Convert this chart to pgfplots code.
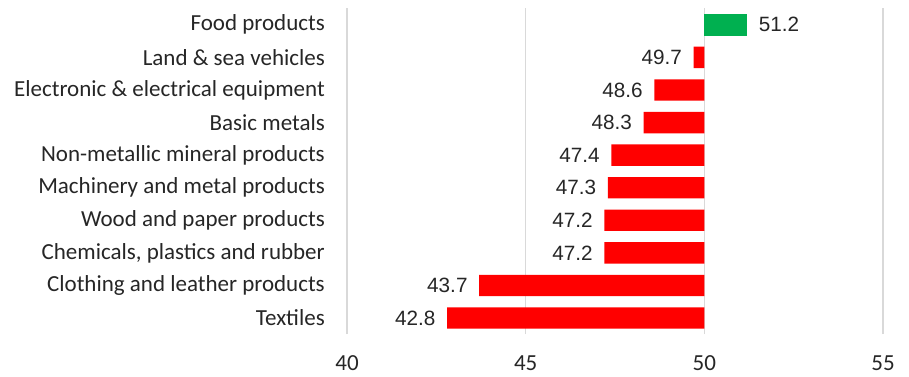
\documentclass[border=0pt]{standalone}
\usepackage{fontspec}
\usepackage{pgfplots}
\pgfplotsset{compat=1.18}
\setmainfont{Carlito}
\newfontfamily\catfont{Carlito}
\newfontfamily\valfont{Liberation Sans}
\definecolor{barred}{HTML}{FF0000}
\definecolor{bargreen}{HTML}{00B050}
\definecolor{gridgray}{HTML}{D9D9D9}
\definecolor{txt}{HTML}{262626}
\begin{document}
\begin{tikzpicture}
\useasboundingbox (0,0) rectangle (909pt,376pt);
\begin{axis}[
  at={(347pt,42pt)}, anchor=south west,
  scale only axis, width=536pt, height=326pt,
  xmin=-10, xmax=5, ymin=-0.49, ymax=9.516,
  xtick={-10,-5,0,5}, xticklabels={40,45,50,55},
  ytick={0,...,9},
  yticklabels={Textiles,Clothing and leather products,{Chemicals, plastics and rubber},Wood and paper products,Machinery and metal products,Non-metallic mineral products,Basic metals,Electronic \& electrical equipment,Land \& sea vehicles,Food products},
  axis line style={draw=none},
  major tick length=0pt,
  xmajorgrids, ymajorgrids=false,
  major grid style={gridgray, line width=1.2pt},
  yticklabel style={font=\catfont\fontsize{23}{27}\selectfont, text=txt, inner sep=0pt, xshift=-22pt},
  xticklabel style={font=\catfont\fontsize{23}{27}\selectfont, text=txt, inner sep=0pt, yshift=-21.5pt},
  xbar, bar width=21.4pt, bar shift=0pt,
  clip=false,
]
\addplot[fill=barred, draw=none,
  point meta=explicit symbolic,
  nodes near coords={\pgfplotspointmeta},
  every node near coord/.append style={anchor=east, inner sep=0pt, xshift=-11.5pt, font=\valfont\fontsize{20.7}{24}\selectfont, text=txt},
] table[x expr=\thisrow{v}-50, y=y, meta=v] {
y v
0 42.8
1 43.7
2 47.2
3 47.2
4 47.3
5 47.4
6 48.3
7 48.6
8 49.7
};
\addplot[fill=bargreen, draw=none,
  point meta=explicit symbolic,
  nodes near coords={\pgfplotspointmeta},
  every node near coord/.append style={anchor=west, inner sep=0pt, xshift=11.5pt, font=\valfont\fontsize{20.7}{24}\selectfont, text=txt},
] table[x expr=\thisrow{v}-50, y=y, meta=v] {
y v
9 51.2
};
\end{axis}
\end{tikzpicture}
\end{document}
